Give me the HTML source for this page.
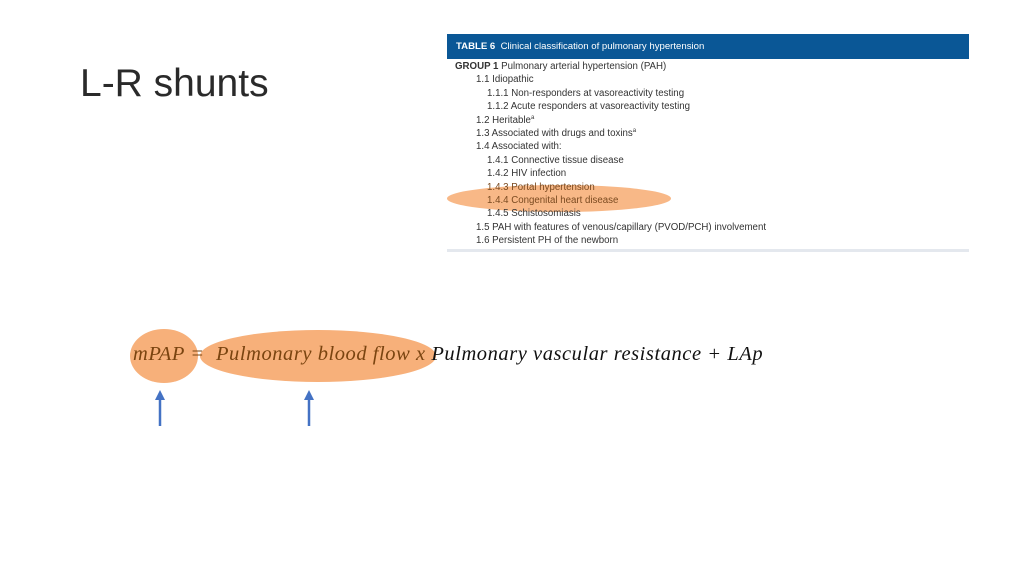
<!DOCTYPE html><html><head><style>
body{margin:0;width:1024px;height:576px;background:#fff;position:relative;overflow:hidden;font-family:"Liberation Sans",sans-serif}
.t{position:absolute;white-space:nowrap}
.tb{position:absolute;left:447px;top:34px;width:522px;height:218px;background:#fff}
.hd{position:absolute;left:0;top:0;width:522px;height:25px;background:#0a5796;color:#fff;font-size:9.6px;line-height:25px;padding-left:9px;box-sizing:border-box}
.ln{position:absolute;font-size:9.7px;color:#333;white-space:nowrap}
</style></head><body>
<div class="t" style="left:80px;top:62px;font-size:39px;color:#2a2a2a">L-R shunts</div>
<div class="tb">
<div class="hd"><b>TABLE 6</b>&nbsp; Clinical classification of pulmonary hypertension</div>
<div style="position:absolute;left:0;top:151px;width:224px;height:27px;border-radius:50%;background:#f7b07a;opacity:.9"></div>
<div class="ln" style="left:8px;top:27px"><b>GROUP 1</b> Pulmonary arterial hypertension (PAH)</div>
<div class="ln" style="left:29px;top:40px">1.1 Idiopathic</div>
<div class="ln" style="left:40px;top:54px">1.1.1 Non-responders at vasoreactivity testing</div>
<div class="ln" style="left:40px;top:67px">1.1.2 Acute responders at vasoreactivity testing</div>
<div class="ln" style="left:29px;top:81px">1.2 Heritable<sup style="font-size:6px">a</sup></div>
<div class="ln" style="left:29px;top:94px">1.3 Associated with drugs and toxins<sup style="font-size:6px">a</sup></div>
<div class="ln" style="left:29px;top:107px">1.4 Associated with:</div>
<div class="ln" style="left:40px;top:121px">1.4.1 Connective tissue disease</div>
<div class="ln" style="left:40px;top:134px">1.4.2 HIV infection</div>
<div class="ln" style="left:40px;top:148px;color:#7a4a20">1.4.3 Portal hypertension</div>
<div class="ln" style="left:40px;top:161px;color:#7a4a20">1.4.4 Congenital heart disease</div>
<div class="ln" style="left:40px;top:174px">1.4.5 Schistosomiasis</div>
<div class="ln" style="left:29px;top:188px">1.5 PAH with features of venous/capillary (PVOD/PCH) involvement</div>
<div class="ln" style="left:29px;top:201px">1.6 Persistent PH of the newborn</div>
<div style="position:absolute;left:0;top:215px;width:522px;height:3px;background:#e4e8ee"></div>
</div>
<svg style="position:absolute;left:0;top:0" width="1024" height="576">
<ellipse cx="164" cy="356" rx="34" ry="27" fill="#f7b07a"/>
<ellipse cx="318" cy="356" rx="118" ry="26" fill="#f7b07a"/>
<g stroke="#4472c4" stroke-width="2.5" fill="#4472c4">
<line x1="160" y1="426" x2="160" y2="398"/><line x1="309" y1="426" x2="309" y2="398"/>
</g>
<polygon points="155,400 165,400 160,390" fill="#4472c4"/>
<polygon points="304,400 314,400 309,390" fill="#4472c4"/>
</svg>
<div class="t" style="left:133px;top:343px;font-family:'Liberation Serif',serif;font-style:italic;font-size:20.5px;color:#111;letter-spacing:0.55px"><span style="color:#7a4410">mPAP =&nbsp; Pulmonary blood flow x</span> Pulmonary vascular resistance + LAp</div>
</body></html>
